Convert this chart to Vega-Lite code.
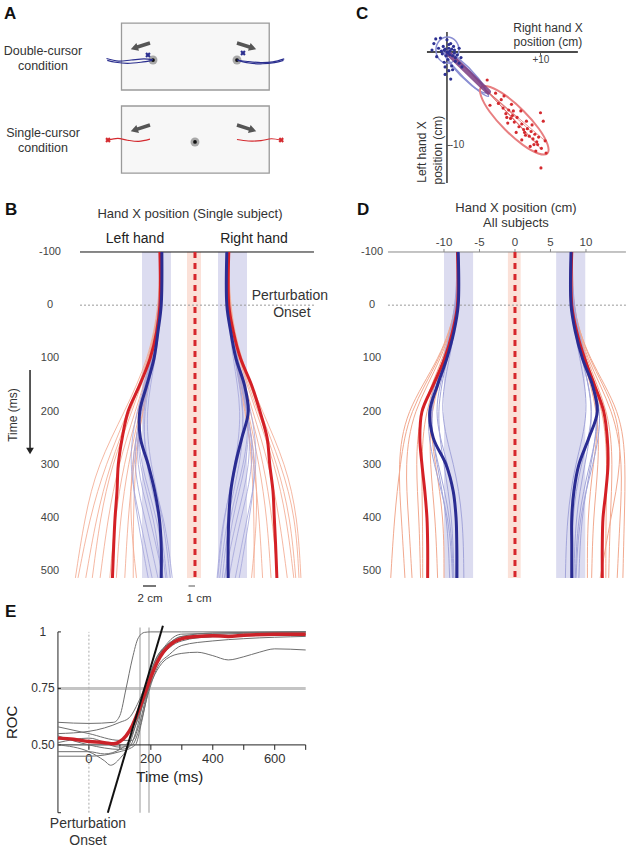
{
"$schema": "https://vega.github.io/schema/vega-lite/v6.json",
"padding": 0,
"background": "white",
"columns": 2,
"spacing": 0,
"bounds": "flush",
"config": {"view": {"stroke": null}, "font": "Liberation Sans", "text": {"font": "Liberation Sans"}, "axis": {"labelFont": "Liberation Sans", "grid": false}},
"datasets": {
"aBox": [{"x":-9.8,"x2":9.9,"y":3.07,"y2":12.0},{"x":-9.8,"x2":9.9,"y":14.13,"y2":23.07}],
"aArrow": [{"side":"L","x":-6.0,"y":5.73,"x2":-8.1,"y2":6.4},{"side":"R","x":5.6,"y":5.73,"x2":7.7,"y2":6.4},{"side":"L","x":-6.0,"y":16.67,"x2":-8.1,"y2":17.34},{"side":"R","x":5.6,"y":16.67,"x2":7.7,"y2":17.34}],
"aTarget": [{"x":-5.6,"y":8.0},{"x":5.6,"y":8.0},{"x":0,"y":18.93}],
"aTraj": [
{"i":"b1","c":"b","k":0,"x":-5.6,"y":7.95},{"i":"b1","c":"b","k":1,"x":-6.8,"y":7.85},{"i":"b1","c":"b","k":2,"x":-8.5,"y":8.0},{"i":"b1","c":"b","k":3,"x":-10.2,"y":8.15},{"i":"b1","c":"b","k":4,"x":-11.8,"y":7.8},
{"i":"b2","c":"b","k":0,"x":-5.7,"y":8.05},{"i":"b2","c":"b","k":1,"x":-7.2,"y":8.3},{"i":"b2","c":"b","k":2,"x":-9.0,"y":8.45},{"i":"b2","c":"b","k":3,"x":-10.6,"y":8.3},{"i":"b2","c":"b","k":4,"x":-11.7,"y":8.05},
{"i":"b3","c":"b","k":0,"x":5.6,"y":8.0},{"i":"b3","c":"b","k":1,"x":7.0,"y":8.2},{"i":"b3","c":"b","k":2,"x":8.8,"y":8.35},{"i":"b3","c":"b","k":3,"x":10.4,"y":8.25},{"i":"b3","c":"b","k":4,"x":11.9,"y":7.85},
{"i":"b4","c":"b","k":0,"x":5.7,"y":8.05},{"i":"b4","c":"b","k":1,"x":7.2,"y":8.4},{"i":"b4","c":"b","k":2,"x":9.0,"y":8.5},{"i":"b4","c":"b","k":3,"x":10.6,"y":8.35},{"i":"b4","c":"b","k":4,"x":11.8,"y":8.05},
{"i":"r1","c":"r","k":0,"x":-6.0,"y":18.55},{"i":"r1","c":"r","k":1,"x":-7.5,"y":18.85},{"i":"r1","c":"r","k":2,"x":-9.0,"y":18.7},{"i":"r1","c":"r","k":3,"x":-10.3,"y":18.45},{"i":"r1","c":"r","k":4,"x":-11.6,"y":18.7},
{"i":"r2","c":"r","k":0,"x":5.6,"y":18.6},{"i":"r2","c":"r","k":1,"x":7.1,"y":18.8},{"i":"r2","c":"r","k":2,"x":8.8,"y":18.75},{"i":"r2","c":"r","k":3,"x":10.2,"y":18.5},{"i":"r2","c":"r","k":4,"x":11.5,"y":18.7}
],
"aCross": [{"c":"b","x":-6.27,"y":7.33},{"c":"b","x":6.4,"y":7.07},{"c":"r","x":-11.6,"y":18.67},{"c":"r","x":11.5,"y":18.67}],
"cEll": [
{"g":"e0","k":0,"x":1.28,"y":0.2},{"g":"e0","k":1,"x":0.92,"y":1.19},{"g":"e0","k":2,"x":0.05,"y":1.6},{"g":"e0","k":3,"x":-0.82,"y":1.19},{"g":"e0","k":4,"x":-1.18,"y":0.2},{"g":"e0","k":5,"x":-0.82,"y":-0.79},{"g":"e0","k":6,"x":0.05,"y":-1.2},{"g":"e0","k":7,"x":0.92,"y":-0.79},
{"g":"e1","k":0,"x":4.16,"y":-4.36},{"g":"e1","k":1,"x":3.4,"y":-2.86},{"g":"e1","k":2,"x":1.14,"y":-0.6},{"g":"e1","k":3,"x":-0.36,"y":0.16},{"g":"e1","k":4,"x":0.4,"y":-1.34},{"g":"e1","k":5,"x":2.66,"y":-3.6},
{"g":"e2","k":0,"x":4.43,"y":-4.73},{"g":"e2","k":1,"x":3.55,"y":-3.29},{"g":"e2","k":2,"x":1.21,"y":-0.95},{"g":"e2","k":3,"x":-0.23,"y":-0.07},{"g":"e2","k":4,"x":0.65,"y":-1.51},{"g":"e2","k":5,"x":2.99,"y":-3.85},
{"g":"e3","k":0,"x":10.74,"y":-10.84},{"g":"e3","k":1,"x":10.75,"y":-9.87},{"g":"e3","k":2,"x":9.83,"y":-8.21},{"g":"e3","k":3,"x":8.19,"y":-6.31},{"g":"e3","k":4,"x":6.29,"y":-4.67},{"g":"e3","k":5,"x":4.63,"y":-3.75},{"g":"e3","k":6,"x":3.66,"y":-3.76},{"g":"e3","k":7,"x":3.65,"y":-4.73},{"g":"e3","k":8,"x":4.57,"y":-6.39},{"g":"e3","k":9,"x":6.21,"y":-8.29},{"g":"e3","k":10,"x":8.11,"y":-9.93},{"g":"e3","k":11,"x":9.77,"y":-10.85}
],
"cFan": [{"x":4.2,"y":-4.1,"x2":10.0,"y2":-10.3},{"x":4.2,"y":-4.1,"x2":9.7,"y2":-9.9},{"x":4.2,"y":-4.1,"x2":10.5,"y2":-9.5},{"x":4.2,"y":-4.1,"x2":9.0,"y2":-8.5},{"x":4.2,"y":-4.1,"x2":8.2,"y2":-8.3},{"x":4.2,"y":-4.1,"x2":7.5,"y2":-7.0}],
"cBand": [{"x":0.15,"y":-0.15,"x2":4.4,"y2":-4.25}],
"cBlue": [{"x":-0.2,"y":0.3},{"x":0.3,"y":0.1},{"x":-0.5,"y":-0.2},{"x":0.6,"y":-0.4},{"x":0.1,"y":-0.8},{"x":-0.3,"y":-1.1},{"x":0.8,"y":0.2},{"x":1.1,"y":-0.3},{"x":-0.9,"y":0.4},{"x":-1.4,"y":0.9},{"x":-1.6,"y":0.2},{"x":0.4,"y":0.9},{"x":0.0,"y":1.3},{"x":-0.7,"y":1.5},{"x":0.9,"y":-1.0},{"x":0.5,"y":-1.5},{"x":0.2,"y":-2.0},{"x":-0.2,"y":-2.4},{"x":0.4,"y":-2.9},{"x":1.3,"y":-1.2},{"x":1.5,"y":-0.6},{"x":-1.1,"y":-0.5},{"x":-0.4,"y":0.6},{"x":0.7,"y":0.6},{"x":0.2,"y":0.4},{"x":-0.1,"y":-0.4},{"x":0.3,"y":-0.3},{"x":0.0,"y":0.0},{"x":0.5,"y":0.3},{"x":-0.6,"y":0.1},{"x":1.3,"y":0.4},{"x":0.9,"y":-0.6},{"x":-0.2,"y":-1.6},{"x":0.6,"y":-1.9},{"x":1.6,"y":-1.6},{"x":0.2,"y":0.8},{"x":-1.2,"y":1.4},{"x":0.1,"y":-0.1},{"x":0.8,"y":-0.1},{"x":-0.3,"y":0.2}],
"cRed": [{"x":4.3,"y":-3.0},{"x":4.6,"y":-5.7},{"x":5.8,"y":-5.1},{"x":6.0,"y":-6.0},{"x":6.3,"y":-6.6},{"x":6.6,"y":-6.2},{"x":6.8,"y":-7.1},{"x":7.0,"y":-6.8},{"x":7.2,"y":-7.5},{"x":6.5,"y":-7.6},{"x":7.5,"y":-7.0},{"x":7.7,"y":-8.0},{"x":8.0,"y":-7.7},{"x":8.2,"y":-8.3},{"x":8.4,"y":-8.9},{"x":8.6,"y":-8.2},{"x":8.8,"y":-9.0},{"x":9.0,"y":-8.5},{"x":9.2,"y":-9.3},{"x":9.4,"y":-8.8},{"x":9.6,"y":-9.6},{"x":9.8,"y":-9.1},{"x":10.0,"y":-6.5},{"x":9.7,"y":-9.9},{"x":10.1,"y":-10.3},{"x":10.5,"y":-9.5},{"x":10.05,"y":-12.4},{"x":5.5,"y":-5.5},{"x":6.1,"y":-4.7},{"x":7.9,"y":-6.3},{"x":8.5,"y":-7.4},{"x":9.1,"y":-7.8},{"x":7.4,"y":-8.6},{"x":8.0,"y":-9.4},{"x":6.9,"y":-5.6},{"x":8.9,"y":-10.1},{"x":9.5,"y":-10.6},{"x":10.3,"y":-7.4},{"x":5.2,"y":-4.4},{"x":7.1,"y":-6.3},{"x":8.3,"y":-8.6},{"x":9.3,"y":-9.9},{"x":6.4,"y":-7.0},{"x":10.6,"y":-10.8}],
"tTicks": [{"t":-100},{"t":0},{"t":100},{"t":200},{"t":300},{"t":400},{"t":500}],
"bBand": [{"kind":"hand","x":-8.15,"x2":-3.7,"t":-100,"t2":513},{"kind":"hand","x":3.54,"x2":8.0,"t":-100,"t2":513},{"kind":"cursor","x":-1.23,"x2":0.92,"t":-100,"t2":513}],
"bThin": [
{"i":"bl1","c":"b","t":-100,"x":-5.1},{"i":"bl1","c":"b","t":0,"x":-5.2},{"i":"bl1","c":"b","t":100,"x":-6.3},{"i":"bl1","c":"b","t":200,"x":-8.5},{"i":"bl1","c":"b","t":300,"x":-9.7},{"i":"bl1","c":"b","t":400,"x":-7.7},{"i":"bl1","c":"b","t":513,"x":-5.7},
{"i":"bl2","c":"b","t":-100,"x":-5.2},{"i":"bl2","c":"b","t":0,"x":-5.4},{"i":"bl2","c":"b","t":100,"x":-6.5},{"i":"bl2","c":"b","t":200,"x":-8.8},{"i":"bl2","c":"b","t":300,"x":-8.8},{"i":"bl2","c":"b","t":400,"x":-6.2},{"i":"bl2","c":"b","t":513,"x":-5.1},
{"i":"bl3","c":"b","t":-100,"x":-5.1},{"i":"bl3","c":"b","t":0,"x":-5.2},{"i":"bl3","c":"b","t":100,"x":-6.2},{"i":"bl3","c":"b","t":200,"x":-8.0},{"i":"bl3","c":"b","t":300,"x":-7.7},{"i":"bl3","c":"b","t":400,"x":-5.4},{"i":"bl3","c":"b","t":513,"x":-4.3},
{"i":"bl4","c":"b","t":-100,"x":-5.2},{"i":"bl4","c":"b","t":0,"x":-5.4},{"i":"bl4","c":"b","t":100,"x":-6.6},{"i":"bl4","c":"b","t":200,"x":-9.1},{"i":"bl4","c":"b","t":300,"x":-10.3},{"i":"bl4","c":"b","t":400,"x":-8.5},{"i":"bl4","c":"b","t":513,"x":-6.6},
{"i":"bl5","c":"b","t":-100,"x":-5.1},{"i":"bl5","c":"b","t":0,"x":-5.1},{"i":"bl5","c":"b","t":100,"x":-6.0},{"i":"bl5","c":"b","t":200,"x":-7.7},{"i":"bl5","c":"b","t":300,"x":-6.9},{"i":"bl5","c":"b","t":400,"x":-4.9},{"i":"bl5","c":"b","t":513,"x":-3.8},
{"i":"bl6","c":"b","t":-100,"x":-5.2},{"i":"bl6","c":"b","t":0,"x":-5.2},{"i":"bl6","c":"b","t":100,"x":-6.5},{"i":"bl6","c":"b","t":200,"x":-8.6},{"i":"bl6","c":"b","t":300,"x":-9.2},{"i":"bl6","c":"b","t":400,"x":-6.9},{"i":"bl6","c":"b","t":513,"x":-4.9},
{"i":"bl7","c":"b","t":-100,"x":-5.4},{"i":"bl7","c":"b","t":0,"x":-5.4},{"i":"bl7","c":"b","t":100,"x":-6.6},{"i":"bl7","c":"b","t":200,"x":-8.9},{"i":"bl7","c":"b","t":300,"x":-8.5},{"i":"bl7","c":"b","t":400,"x":-5.7},{"i":"bl7","c":"b","t":513,"x":-4.5},
{"i":"bl8","c":"b","t":-100,"x":-5.1},{"i":"bl8","c":"b","t":0,"x":-5.2},{"i":"bl8","c":"b","t":100,"x":-6.2},{"i":"bl8","c":"b","t":200,"x":-8.2},{"i":"bl8","c":"b","t":300,"x":-10.0},{"i":"bl8","c":"b","t":400,"x":-8.9},{"i":"bl8","c":"b","t":513,"x":-7.2},
{"i":"bl9","c":"b","t":-100,"x":-5.2},{"i":"bl9","c":"b","t":0,"x":-5.4},{"i":"bl9","c":"b","t":100,"x":-6.3},{"i":"bl9","c":"b","t":200,"x":-8.3},{"i":"bl9","c":"b","t":300,"x":-7.4},{"i":"bl9","c":"b","t":400,"x":-4.6},{"i":"bl9","c":"b","t":513,"x":-3.5},
{"i":"br1","c":"b","t":-100,"x":4.9},{"i":"br1","c":"b","t":0,"x":5.0},{"i":"br1","c":"b","t":100,"x":6.1},{"i":"br1","c":"b","t":200,"x":8.2},{"i":"br1","c":"b","t":300,"x":9.2},{"i":"br1","c":"b","t":400,"x":7.0},{"i":"br1","c":"b","t":513,"x":5.2},
{"i":"br2","c":"b","t":-100,"x":4.9},{"i":"br2","c":"b","t":0,"x":5.1},{"i":"br2","c":"b","t":100,"x":6.3},{"i":"br2","c":"b","t":200,"x":8.5},{"i":"br2","c":"b","t":300,"x":8.0},{"i":"br2","c":"b","t":400,"x":5.6},{"i":"br2","c":"b","t":513,"x":4.6},
{"i":"br3","c":"b","t":-100,"x":4.9},{"i":"br3","c":"b","t":0,"x":5.0},{"i":"br3","c":"b","t":100,"x":6.0},{"i":"br3","c":"b","t":200,"x":7.7},{"i":"br3","c":"b","t":300,"x":7.0},{"i":"br3","c":"b","t":400,"x":4.9},{"i":"br3","c":"b","t":513,"x":3.8},
{"i":"br4","c":"b","t":-100,"x":5.0},{"i":"br4","c":"b","t":0,"x":5.1},{"i":"br4","c":"b","t":100,"x":6.4},{"i":"br4","c":"b","t":200,"x":8.8},{"i":"br4","c":"b","t":300,"x":9.8},{"i":"br4","c":"b","t":400,"x":8.0},{"i":"br4","c":"b","t":513,"x":6.2},
{"i":"br5","c":"b","t":-100,"x":4.8},{"i":"br5","c":"b","t":0,"x":4.9},{"i":"br5","c":"b","t":100,"x":5.8},{"i":"br5","c":"b","t":200,"x":7.3},{"i":"br5","c":"b","t":300,"x":6.2},{"i":"br5","c":"b","t":400,"x":4.4},{"i":"br5","c":"b","t":513,"x":3.5},
{"i":"br6","c":"b","t":-100,"x":4.9},{"i":"br6","c":"b","t":0,"x":5.0},{"i":"br6","c":"b","t":100,"x":6.2},{"i":"br6","c":"b","t":200,"x":8.3},{"i":"br6","c":"b","t":300,"x":8.6},{"i":"br6","c":"b","t":400,"x":6.4},{"i":"br6","c":"b","t":513,"x":4.5},
{"i":"br7","c":"b","t":-100,"x":5.1},{"i":"br7","c":"b","t":0,"x":5.1},{"i":"br7","c":"b","t":100,"x":6.4},{"i":"br7","c":"b","t":200,"x":8.6},{"i":"br7","c":"b","t":300,"x":7.6},{"i":"br7","c":"b","t":400,"x":5.2},{"i":"br7","c":"b","t":513,"x":4.2},
{"i":"br8","c":"b","t":-100,"x":4.9},{"i":"br8","c":"b","t":0,"x":5.0},{"i":"br8","c":"b","t":100,"x":6.1},{"i":"br8","c":"b","t":200,"x":8.0},{"i":"br8","c":"b","t":300,"x":9.5},{"i":"br8","c":"b","t":400,"x":8.4},{"i":"br8","c":"b","t":513,"x":6.8},
{"i":"br9","c":"b","t":-100,"x":4.9},{"i":"br9","c":"b","t":0,"x":5.0},{"i":"br9","c":"b","t":100,"x":6.0},{"i":"br9","c":"b","t":200,"x":7.9},{"i":"br9","c":"b","t":300,"x":6.6},{"i":"br9","c":"b","t":400,"x":4.2},{"i":"br9","c":"b","t":513,"x":3.4},
{"i":"rl1","c":"r","t":-100,"x":-5.3},{"i":"rl1","c":"r","t":0,"x":-5.4},{"i":"rl1","c":"r","t":100,"x":-7.0},{"i":"rl1","c":"r","t":200,"x":-10.3},{"i":"rl1","c":"r","t":300,"x":-13.8},{"i":"rl1","c":"r","t":400,"x":-16.2},{"i":"rl1","c":"r","t":513,"x":-18.0},
{"i":"rl2","c":"r","t":-100,"x":-5.4},{"i":"rl2","c":"r","t":0,"x":-5.4},{"i":"rl2","c":"r","t":100,"x":-6.6},{"i":"rl2","c":"r","t":200,"x":-9.2},{"i":"rl2","c":"r","t":300,"x":-11.8},{"i":"rl2","c":"r","t":400,"x":-13.4},{"i":"rl2","c":"r","t":513,"x":-14.6},
{"i":"rl3","c":"r","t":-100,"x":-5.3},{"i":"rl3","c":"r","t":0,"x":-5.4},{"i":"rl3","c":"r","t":100,"x":-6.8},{"i":"rl3","c":"r","t":200,"x":-9.7},{"i":"rl3","c":"r","t":300,"x":-12.8},{"i":"rl3","c":"r","t":400,"x":-14.6},{"i":"rl3","c":"r","t":513,"x":-15.8},
{"i":"rl4","c":"r","t":-100,"x":-5.4},{"i":"rl4","c":"r","t":0,"x":-5.5},{"i":"rl4","c":"r","t":100,"x":-7.1},{"i":"rl4","c":"r","t":200,"x":-10.8},{"i":"rl4","c":"r","t":300,"x":-15.0},{"i":"rl4","c":"r","t":400,"x":-17.0},{"i":"rl4","c":"r","t":513,"x":-18.4},
{"i":"rl5","c":"r","t":-100,"x":-5.3},{"i":"rl5","c":"r","t":0,"x":-5.4},{"i":"rl5","c":"r","t":100,"x":-6.5},{"i":"rl5","c":"r","t":200,"x":-8.5},{"i":"rl5","c":"r","t":300,"x":-10.3},{"i":"rl5","c":"r","t":400,"x":-11.5},{"i":"rl5","c":"r","t":513,"x":-12.1},
{"i":"rl6","c":"r","t":-100,"x":-5.4},{"i":"rl6","c":"r","t":0,"x":-5.4},{"i":"rl6","c":"r","t":100,"x":-6.6},{"i":"rl6","c":"r","t":200,"x":-8.8},{"i":"rl6","c":"r","t":300,"x":-11.0},{"i":"rl6","c":"r","t":400,"x":-12.3},{"i":"rl6","c":"r","t":513,"x":-13.1},
{"i":"rl7","c":"r","t":-100,"x":-5.3},{"i":"rl7","c":"r","t":0,"x":-5.3},{"i":"rl7","c":"r","t":100,"x":-6.3},{"i":"rl7","c":"r","t":200,"x":-8.0},{"i":"rl7","c":"r","t":300,"x":-9.5},{"i":"rl7","c":"r","t":400,"x":-10.3},{"i":"rl7","c":"r","t":513,"x":-10.8},
{"i":"rl8","c":"r","t":-100,"x":-5.4},{"i":"rl8","c":"r","t":0,"x":-5.4},{"i":"rl8","c":"r","t":100,"x":-6.9},{"i":"rl8","c":"r","t":200,"x":-10.0},{"i":"rl8","c":"r","t":300,"x":-13.1},{"i":"rl8","c":"r","t":400,"x":-15.2},{"i":"rl8","c":"r","t":513,"x":-16.8},
{"i":"rl9","c":"r","t":-100,"x":-5.3},{"i":"rl9","c":"r","t":0,"x":-5.4},{"i":"rl9","c":"r","t":100,"x":-6.5},{"i":"rl9","c":"r","t":200,"x":-8.2},{"i":"rl9","c":"r","t":300,"x":-9.2},{"i":"rl9","c":"r","t":400,"x":-9.5},{"i":"rl9","c":"r","t":513,"x":-9.5},
{"i":"rl10","c":"r","t":-100,"x":-5.3},{"i":"rl10","c":"r","t":0,"x":-5.4},{"i":"rl10","c":"r","t":100,"x":-6.4},{"i":"rl10","c":"r","t":200,"x":-8.4},{"i":"rl10","c":"r","t":300,"x":-9.8},{"i":"rl10","c":"r","t":400,"x":-10.0},{"i":"rl10","c":"r","t":513,"x":-9.0},
{"i":"rr1","c":"r","t":-100,"x":5.1},{"i":"rr1","c":"r","t":0,"x":5.2},{"i":"rr1","c":"r","t":100,"x":6.8},{"i":"rr1","c":"r","t":200,"x":10.0},{"i":"rr1","c":"r","t":300,"x":13.3},{"i":"rr1","c":"r","t":400,"x":15.5},{"i":"rr1","c":"r","t":513,"x":16.0},
{"i":"rr2","c":"r","t":-100,"x":5.2},{"i":"rr2","c":"r","t":0,"x":5.2},{"i":"rr2","c":"r","t":100,"x":6.4},{"i":"rr2","c":"r","t":200,"x":8.9},{"i":"rr2","c":"r","t":300,"x":11.4},{"i":"rr2","c":"r","t":400,"x":13.0},{"i":"rr2","c":"r","t":513,"x":14.2},
{"i":"rr3","c":"r","t":-100,"x":5.1},{"i":"rr3","c":"r","t":0,"x":5.2},{"i":"rr3","c":"r","t":100,"x":6.6},{"i":"rr3","c":"r","t":200,"x":9.4},{"i":"rr3","c":"r","t":300,"x":12.3},{"i":"rr3","c":"r","t":400,"x":14.1},{"i":"rr3","c":"r","t":513,"x":15.2},
{"i":"rr4","c":"r","t":-100,"x":5.2},{"i":"rr4","c":"r","t":0,"x":5.3},{"i":"rr4","c":"r","t":100,"x":6.9},{"i":"rr4","c":"r","t":200,"x":10.4},{"i":"rr4","c":"r","t":300,"x":14.0},{"i":"rr4","c":"r","t":400,"x":15.8},{"i":"rr4","c":"r","t":513,"x":16.3},
{"i":"rr5","c":"r","t":-100,"x":5.1},{"i":"rr5","c":"r","t":0,"x":5.2},{"i":"rr5","c":"r","t":100,"x":6.3},{"i":"rr5","c":"r","t":200,"x":8.2},{"i":"rr5","c":"r","t":300,"x":9.9},{"i":"rr5","c":"r","t":400,"x":11.1},{"i":"rr5","c":"r","t":513,"x":11.7},
{"i":"rr6","c":"r","t":-100,"x":5.2},{"i":"rr6","c":"r","t":0,"x":5.2},{"i":"rr6","c":"r","t":100,"x":6.4},{"i":"rr6","c":"r","t":200,"x":8.5},{"i":"rr6","c":"r","t":300,"x":10.6},{"i":"rr6","c":"r","t":400,"x":11.9},{"i":"rr6","c":"r","t":513,"x":12.7},
{"i":"rr7","c":"r","t":-100,"x":5.1},{"i":"rr7","c":"r","t":0,"x":5.1},{"i":"rr7","c":"r","t":100,"x":6.1},{"i":"rr7","c":"r","t":200,"x":7.7},{"i":"rr7","c":"r","t":300,"x":9.1},{"i":"rr7","c":"r","t":400,"x":9.9},{"i":"rr7","c":"r","t":513,"x":10.4},
{"i":"rr8","c":"r","t":-100,"x":5.2},{"i":"rr8","c":"r","t":0,"x":5.2},{"i":"rr8","c":"r","t":100,"x":6.7},{"i":"rr8","c":"r","t":200,"x":9.7},{"i":"rr8","c":"r","t":300,"x":12.7},{"i":"rr8","c":"r","t":400,"x":14.7},{"i":"rr8","c":"r","t":513,"x":15.5},
{"i":"rr9","c":"r","t":-100,"x":5.1},{"i":"rr9","c":"r","t":0,"x":5.2},{"i":"rr9","c":"r","t":100,"x":6.3},{"i":"rr9","c":"r","t":200,"x":7.9},{"i":"rr9","c":"r","t":300,"x":8.8},{"i":"rr9","c":"r","t":400,"x":9.1},{"i":"rr9","c":"r","t":513,"x":9.1},
{"i":"rr10","c":"r","t":-100,"x":5.1},{"i":"rr10","c":"r","t":0,"x":5.2},{"i":"rr10","c":"r","t":100,"x":6.2},{"i":"rr10","c":"r","t":200,"x":8.1},{"i":"rr10","c":"r","t":300,"x":9.4},{"i":"rr10","c":"r","t":400,"x":9.6},{"i":"rr10","c":"r","t":513,"x":8.7}
],
"bMean": [
{"i":"Lb","c":"b","t":-100,"x":-5.1},{"i":"Lb","c":"b","t":0,"x":-5.2},{"i":"Lb","c":"b","t":50,"x":-5.7},{"i":"Lb","c":"b","t":100,"x":-6.3},{"i":"Lb","c":"b","t":150,"x":-7.4},{"i":"Lb","c":"b","t":200,"x":-8.5},{"i":"Lb","c":"b","t":250,"x":-8.4},{"i":"Lb","c":"b","t":300,"x":-7.2},{"i":"Lb","c":"b","t":350,"x":-6.2},{"i":"Lb","c":"b","t":400,"x":-5.5},{"i":"Lb","c":"b","t":450,"x":-5.2},{"i":"Lb","c":"b","t":513,"x":-5.2},
{"i":"Lr","c":"r","t":-100,"x":-5.4},{"i":"Lr","c":"r","t":0,"x":-5.4},{"i":"Lr","c":"r","t":50,"x":-5.9},{"i":"Lr","c":"r","t":100,"x":-6.9},{"i":"Lr","c":"r","t":150,"x":-8.5},{"i":"Lr","c":"r","t":200,"x":-10.3},{"i":"Lr","c":"r","t":250,"x":-11.2},{"i":"Lr","c":"r","t":300,"x":-11.8},{"i":"Lr","c":"r","t":350,"x":-12.0},{"i":"Lr","c":"r","t":400,"x":-12.3},{"i":"Lr","c":"r","t":450,"x":-12.5},{"i":"Lr","c":"r","t":513,"x":-12.7},
{"i":"Rb","c":"b","t":-100,"x":4.9},{"i":"Rb","c":"b","t":0,"x":4.9},{"i":"Rb","c":"b","t":50,"x":5.5},{"i":"Rb","c":"b","t":100,"x":6.3},{"i":"Rb","c":"b","t":150,"x":7.6},{"i":"Rb","c":"b","t":200,"x":8.2},{"i":"Rb","c":"b","t":250,"x":7.2},{"i":"Rb","c":"b","t":300,"x":6.2},{"i":"Rb","c":"b","t":350,"x":5.5},{"i":"Rb","c":"b","t":400,"x":5.2},{"i":"Rb","c":"b","t":450,"x":5.1},{"i":"Rb","c":"b","t":513,"x":5.1},
{"i":"Rr","c":"r","t":-100,"x":5.2},{"i":"Rr","c":"r","t":0,"x":5.2},{"i":"Rr","c":"r","t":50,"x":5.9},{"i":"Rr","c":"r","t":100,"x":7.0},{"i":"Rr","c":"r","t":150,"x":8.7},{"i":"Rr","c":"r","t":200,"x":10.0},{"i":"Rr","c":"r","t":250,"x":11.1},{"i":"Rr","c":"r","t":300,"x":11.5},{"i":"Rr","c":"r","t":350,"x":12.0},{"i":"Rr","c":"r","t":400,"x":12.2},{"i":"Rr","c":"r","t":450,"x":12.4},{"i":"Rr","c":"r","t":513,"x":12.6}
],
"dBand": [{"kind":"hand","x":-10,"x2":-5.9,"t":-100,"t2":513},{"kind":"hand","x":5.8,"x2":9.9,"t":-100,"t2":513},{"kind":"cursor","x":-1.0,"x2":0.8,"t":-100,"t2":513}],
"dTick": [{"x":-10},{"x":-5},{"x":0},{"x":5},{"x":10}],
"dThin": [
{"i":"dbl1","c":"b","t":-100,"x":-8.0},{"i":"dbl1","c":"b","t":0,"x":-8.0},{"i":"dbl1","c":"b","t":100,"x":-9.5},{"i":"dbl1","c":"b","t":200,"x":-11.2},{"i":"dbl1","c":"b","t":300,"x":-10.0},{"i":"dbl1","c":"b","t":400,"x":-8.8},{"i":"dbl1","c":"b","t":513,"x":-8.6},
{"i":"dbl2","c":"b","t":-100,"x":-8.1},{"i":"dbl2","c":"b","t":0,"x":-8.1},{"i":"dbl2","c":"b","t":100,"x":-9.8},{"i":"dbl2","c":"b","t":200,"x":-12.5},{"i":"dbl2","c":"b","t":300,"x":-10.8},{"i":"dbl2","c":"b","t":400,"x":-9.0},{"i":"dbl2","c":"b","t":513,"x":-8.7},
{"i":"dbl3","c":"b","t":-100,"x":-7.9},{"i":"dbl3","c":"b","t":0,"x":-7.9},{"i":"dbl3","c":"b","t":100,"x":-9.2},{"i":"dbl3","c":"b","t":200,"x":-10.8},{"i":"dbl3","c":"b","t":300,"x":-8.5},{"i":"dbl3","c":"b","t":400,"x":-7.3},{"i":"dbl3","c":"b","t":513,"x":-7.2},
{"i":"dbl4","c":"b","t":-100,"x":-8.0},{"i":"dbl4","c":"b","t":0,"x":-8.0},{"i":"dbl4","c":"b","t":100,"x":-9.9},{"i":"dbl4","c":"b","t":200,"x":-12.8},{"i":"dbl4","c":"b","t":300,"x":-11.5},{"i":"dbl4","c":"b","t":400,"x":-9.2},{"i":"dbl4","c":"b","t":513,"x":-8.8},
{"i":"dbl5","c":"b","t":-100,"x":-8.0},{"i":"dbl5","c":"b","t":0,"x":-8.0},{"i":"dbl5","c":"b","t":100,"x":-9.4},{"i":"dbl5","c":"b","t":200,"x":-11.8},{"i":"dbl5","c":"b","t":300,"x":-9.3},{"i":"dbl5","c":"b","t":400,"x":-8.1},{"i":"dbl5","c":"b","t":513,"x":-8.0},
{"i":"dbl6","c":"b","t":-100,"x":-8.2},{"i":"dbl6","c":"b","t":0,"x":-8.2},{"i":"dbl6","c":"b","t":100,"x":-10.0},{"i":"dbl6","c":"b","t":200,"x":-12.2},{"i":"dbl6","c":"b","t":300,"x":-11.0},{"i":"dbl6","c":"b","t":400,"x":-9.5},{"i":"dbl6","c":"b","t":513,"x":-9.2},
{"i":"dbr1","c":"b","t":-100,"x":7.9},{"i":"dbr1","c":"b","t":0,"x":7.9},{"i":"dbr1","c":"b","t":100,"x":9.4},{"i":"dbr1","c":"b","t":200,"x":11.3},{"i":"dbr1","c":"b","t":300,"x":9.8},{"i":"dbr1","c":"b","t":400,"x":8.5},{"i":"dbr1","c":"b","t":513,"x":8.3},
{"i":"dbr2","c":"b","t":-100,"x":8.0},{"i":"dbr2","c":"b","t":0,"x":8.0},{"i":"dbr2","c":"b","t":100,"x":9.7},{"i":"dbr2","c":"b","t":200,"x":12.3},{"i":"dbr2","c":"b","t":300,"x":10.5},{"i":"dbr2","c":"b","t":400,"x":8.8},{"i":"dbr2","c":"b","t":513,"x":8.5},
{"i":"dbr3","c":"b","t":-100,"x":7.8},{"i":"dbr3","c":"b","t":0,"x":7.8},{"i":"dbr3","c":"b","t":100,"x":9.1},{"i":"dbr3","c":"b","t":200,"x":10.6},{"i":"dbr3","c":"b","t":300,"x":8.4},{"i":"dbr3","c":"b","t":400,"x":7.3},{"i":"dbr3","c":"b","t":513,"x":7.1},
{"i":"dbr4","c":"b","t":-100,"x":7.9},{"i":"dbr4","c":"b","t":0,"x":7.9},{"i":"dbr4","c":"b","t":100,"x":9.8},{"i":"dbr4","c":"b","t":200,"x":12.6},{"i":"dbr4","c":"b","t":300,"x":11.0},{"i":"dbr4","c":"b","t":400,"x":9.0},{"i":"dbr4","c":"b","t":513,"x":8.6},
{"i":"dbr5","c":"b","t":-100,"x":7.9},{"i":"dbr5","c":"b","t":0,"x":7.9},{"i":"dbr5","c":"b","t":100,"x":9.3},{"i":"dbr5","c":"b","t":200,"x":11.5},{"i":"dbr5","c":"b","t":300,"x":9.2},{"i":"dbr5","c":"b","t":400,"x":8.0},{"i":"dbr5","c":"b","t":513,"x":7.9},
{"i":"dbr6","c":"b","t":-100,"x":8.1},{"i":"dbr6","c":"b","t":0,"x":8.1},{"i":"dbr6","c":"b","t":100,"x":9.9},{"i":"dbr6","c":"b","t":200,"x":12.0},{"i":"dbr6","c":"b","t":300,"x":10.7},{"i":"dbr6","c":"b","t":400,"x":9.3},{"i":"dbr6","c":"b","t":513,"x":9.0},
{"i":"drl1","c":"r","t":-100,"x":-8.0},{"i":"drl1","c":"r","t":0,"x":-8.0},{"i":"drl1","c":"r","t":100,"x":-10.2},{"i":"drl1","c":"r","t":200,"x":-14.5},{"i":"drl1","c":"r","t":300,"x":-15.5},{"i":"drl1","c":"r","t":400,"x":-15.0},{"i":"drl1","c":"r","t":513,"x":-14.5},
{"i":"drl2","c":"r","t":-100,"x":-8.1},{"i":"drl2","c":"r","t":0,"x":-8.1},{"i":"drl2","c":"r","t":100,"x":-9.9},{"i":"drl2","c":"r","t":200,"x":-12.8},{"i":"drl2","c":"r","t":300,"x":-13.2},{"i":"drl2","c":"r","t":400,"x":-13.0},{"i":"drl2","c":"r","t":513,"x":-13.0},
{"i":"drl3","c":"r","t":-100,"x":-8.0},{"i":"drl3","c":"r","t":0,"x":-8.0},{"i":"drl3","c":"r","t":100,"x":-10.5},{"i":"drl3","c":"r","t":200,"x":-15.5},{"i":"drl3","c":"r","t":300,"x":-16.5},{"i":"drl3","c":"r","t":400,"x":-16.0},{"i":"drl3","c":"r","t":513,"x":-15.5},
{"i":"drl4","c":"r","t":-100,"x":-8.1},{"i":"drl4","c":"r","t":0,"x":-8.1},{"i":"drl4","c":"r","t":100,"x":-9.6},{"i":"drl4","c":"r","t":200,"x":-12.0},{"i":"drl4","c":"r","t":300,"x":-12.0},{"i":"drl4","c":"r","t":400,"x":-11.2},{"i":"drl4","c":"r","t":513,"x":-10.9},
{"i":"drl5","c":"r","t":-100,"x":-8.0},{"i":"drl5","c":"r","t":0,"x":-8.0},{"i":"drl5","c":"r","t":100,"x":-10.0},{"i":"drl5","c":"r","t":200,"x":-13.5},{"i":"drl5","c":"r","t":300,"x":-14.0},{"i":"drl5","c":"r","t":400,"x":-13.5},{"i":"drl5","c":"r","t":513,"x":-13.3},
{"i":"drl6","c":"r","t":-100,"x":-8.1},{"i":"drl6","c":"r","t":0,"x":-8.1},{"i":"drl6","c":"r","t":100,"x":-9.7},{"i":"drl6","c":"r","t":200,"x":-12.3},{"i":"drl6","c":"r","t":300,"x":-11.2},{"i":"drl6","c":"r","t":400,"x":-10.0},{"i":"drl6","c":"r","t":513,"x":-10.0},
{"i":"drl7","c":"r","t":-100,"x":-8.0},{"i":"drl7","c":"r","t":0,"x":-8.0},{"i":"drl7","c":"r","t":100,"x":-10.4},{"i":"drl7","c":"r","t":200,"x":-15.0},{"i":"drl7","c":"r","t":300,"x":-16.2},{"i":"drl7","c":"r","t":400,"x":-17.0},{"i":"drl7","c":"r","t":513,"x":-17.5},
{"i":"drr1","c":"r","t":-100,"x":8.0},{"i":"drr1","c":"r","t":0,"x":8.0},{"i":"drr1","c":"r","t":100,"x":10.0},{"i":"drr1","c":"r","t":200,"x":14.0},{"i":"drr1","c":"r","t":300,"x":15.2},{"i":"drr1","c":"r","t":400,"x":14.8},{"i":"drr1","c":"r","t":513,"x":14.4},
{"i":"drr2","c":"r","t":-100,"x":8.0},{"i":"drr2","c":"r","t":0,"x":8.0},{"i":"drr2","c":"r","t":100,"x":9.8},{"i":"drr2","c":"r","t":200,"x":12.6},{"i":"drr2","c":"r","t":300,"x":13.0},{"i":"drr2","c":"r","t":400,"x":12.8},{"i":"drr2","c":"r","t":513,"x":12.8},
{"i":"drr3","c":"r","t":-100,"x":7.9},{"i":"drr3","c":"r","t":0,"x":7.9},{"i":"drr3","c":"r","t":100,"x":10.3},{"i":"drr3","c":"r","t":200,"x":15.0},{"i":"drr3","c":"r","t":300,"x":15.6},{"i":"drr3","c":"r","t":400,"x":15.4},{"i":"drr3","c":"r","t":513,"x":15.2},
{"i":"drr4","c":"r","t":-100,"x":8.0},{"i":"drr4","c":"r","t":0,"x":8.0},{"i":"drr4","c":"r","t":100,"x":9.5},{"i":"drr4","c":"r","t":200,"x":11.8},{"i":"drr4","c":"r","t":300,"x":11.8},{"i":"drr4","c":"r","t":400,"x":11.0},{"i":"drr4","c":"r","t":513,"x":10.8},
{"i":"drr5","c":"r","t":-100,"x":8.0},{"i":"drr5","c":"r","t":0,"x":8.0},{"i":"drr5","c":"r","t":100,"x":9.9},{"i":"drr5","c":"r","t":200,"x":13.3},{"i":"drr5","c":"r","t":300,"x":13.8},{"i":"drr5","c":"r","t":400,"x":13.4},{"i":"drr5","c":"r","t":513,"x":13.2},
{"i":"drr6","c":"r","t":-100,"x":8.1},{"i":"drr6","c":"r","t":0,"x":8.1},{"i":"drr6","c":"r","t":100,"x":9.6},{"i":"drr6","c":"r","t":200,"x":12.1},{"i":"drr6","c":"r","t":300,"x":11.0},{"i":"drr6","c":"r","t":400,"x":10.2},{"i":"drr6","c":"r","t":513,"x":10.2},
{"i":"drr7","c":"r","t":-100,"x":8.0},{"i":"drr7","c":"r","t":0,"x":8.0},{"i":"drr7","c":"r","t":100,"x":10.2},{"i":"drr7","c":"r","t":200,"x":14.6},{"i":"drr7","c":"r","t":300,"x":15.0},{"i":"drr7","c":"r","t":400,"x":13.5},{"i":"drr7","c":"r","t":513,"x":12.0}
],
"dMean": [
{"i":"Lb","c":"b","t":-100,"x":-8.0},{"i":"Lb","c":"b","t":0,"x":-8.0},{"i":"Lb","c":"b","t":50,"x":-8.6},{"i":"Lb","c":"b","t":100,"x":-9.6},{"i":"Lb","c":"b","t":150,"x":-10.9},{"i":"Lb","c":"b","t":200,"x":-12.0},{"i":"Lb","c":"b","t":250,"x":-11.5},{"i":"Lb","c":"b","t":300,"x":-9.7},{"i":"Lb","c":"b","t":350,"x":-8.7},{"i":"Lb","c":"b","t":400,"x":-8.3},{"i":"Lb","c":"b","t":450,"x":-8.2},{"i":"Lb","c":"b","t":513,"x":-8.2},
{"i":"Lr","c":"r","t":-100,"x":-8.1},{"i":"Lr","c":"r","t":0,"x":-8.1},{"i":"Lr","c":"r","t":50,"x":-8.8},{"i":"Lr","c":"r","t":100,"x":-9.9},{"i":"Lr","c":"r","t":150,"x":-11.5},{"i":"Lr","c":"r","t":200,"x":-13.1},{"i":"Lr","c":"r","t":250,"x":-13.4},{"i":"Lr","c":"r","t":300,"x":-13.1},{"i":"Lr","c":"r","t":350,"x":-12.7},{"i":"Lr","c":"r","t":400,"x":-12.4},{"i":"Lr","c":"r","t":450,"x":-12.3},{"i":"Lr","c":"r","t":513,"x":-12.3},
{"i":"Rb","c":"b","t":-100,"x":7.9},{"i":"Rb","c":"b","t":0,"x":7.9},{"i":"Rb","c":"b","t":50,"x":8.5},{"i":"Rb","c":"b","t":100,"x":9.5},{"i":"Rb","c":"b","t":150,"x":10.9},{"i":"Rb","c":"b","t":200,"x":11.6},{"i":"Rb","c":"b","t":250,"x":10.4},{"i":"Rb","c":"b","t":300,"x":9.0},{"i":"Rb","c":"b","t":350,"x":8.3},{"i":"Rb","c":"b","t":400,"x":8.0},{"i":"Rb","c":"b","t":450,"x":8.0},{"i":"Rb","c":"b","t":513,"x":8.0},
{"i":"Rr","c":"r","t":-100,"x":8.0},{"i":"Rr","c":"r","t":0,"x":8.0},{"i":"Rr","c":"r","t":50,"x":8.7},{"i":"Rr","c":"r","t":100,"x":9.8},{"i":"Rr","c":"r","t":150,"x":11.2},{"i":"Rr","c":"r","t":200,"x":12.5},{"i":"Rr","c":"r","t":250,"x":13.0},{"i":"Rr","c":"r","t":300,"x":13.1},{"i":"Rr","c":"r","t":350,"x":12.8},{"i":"Rr","c":"r","t":400,"x":12.4},{"i":"Rr","c":"r","t":450,"x":12.3},{"i":"Rr","c":"r","t":513,"x":12.3}
],
"eSubj": [
{"i":"g1","t":-100,"roc":0.6},{"i":"g1","t":0,"roc":0.595},{"i":"g1","t":80,"roc":0.6},{"i":"g1","t":100,"roc":0.63},{"i":"g1","t":120,"roc":0.75},{"i":"g1","t":140,"roc":0.88},{"i":"g1","t":160,"roc":0.975},{"i":"g1","t":180,"roc":0.998},{"i":"g1","t":200,"roc":1.0},{"i":"g1","t":300,"roc":1.0},{"i":"g1","t":700,"roc":1.0},
{"i":"g2","t":-100,"roc":0.47},{"i":"g2","t":0,"roc":0.47},{"i":"g2","t":50,"roc":0.46},{"i":"g2","t":100,"roc":0.48},{"i":"g2","t":130,"roc":0.52},{"i":"g2","t":160,"roc":0.62},{"i":"g2","t":190,"roc":0.74},{"i":"g2","t":220,"roc":0.83},{"i":"g2","t":250,"roc":0.88},{"i":"g2","t":300,"roc":0.905},{"i":"g2","t":350,"roc":0.91},{"i":"g2","t":400,"roc":0.895},{"i":"g2","t":450,"roc":0.876},{"i":"g2","t":500,"roc":0.89},{"i":"g2","t":550,"roc":0.91},{"i":"g2","t":600,"roc":0.925},{"i":"g2","t":700,"roc":0.92},
{"i":"g3","t":-100,"roc":0.5},{"i":"g3","t":0,"roc":0.47},{"i":"g3","t":50,"roc":0.43},{"i":"g3","t":70,"roc":0.41},{"i":"g3","t":100,"roc":0.44},{"i":"g3","t":130,"roc":0.5},{"i":"g3","t":160,"roc":0.63},{"i":"g3","t":190,"roc":0.77},{"i":"g3","t":220,"roc":0.88},{"i":"g3","t":260,"roc":0.95},{"i":"g3","t":300,"roc":0.98},{"i":"g3","t":400,"roc":0.995},{"i":"g3","t":700,"roc":1.0},
{"i":"g4","t":-100,"roc":0.55},{"i":"g4","t":0,"roc":0.56},{"i":"g4","t":100,"roc":0.6},{"i":"g4","t":130,"roc":0.62},{"i":"g4","t":160,"roc":0.69},{"i":"g4","t":190,"roc":0.79},{"i":"g4","t":220,"roc":0.89},{"i":"g4","t":260,"roc":0.95},{"i":"g4","t":300,"roc":0.98},{"i":"g4","t":700,"roc":1.0},
{"i":"g5","t":-100,"roc":0.58},{"i":"g5","t":0,"roc":0.55},{"i":"g5","t":100,"roc":0.52},{"i":"g5","t":140,"roc":0.52},{"i":"g5","t":160,"roc":0.58},{"i":"g5","t":190,"roc":0.74},{"i":"g5","t":220,"roc":0.86},{"i":"g5","t":260,"roc":0.93},{"i":"g5","t":300,"roc":0.96},{"i":"g5","t":400,"roc":0.98},{"i":"g5","t":700,"roc":0.99},
{"i":"g6","t":-100,"roc":0.51},{"i":"g6","t":0,"roc":0.53},{"i":"g6","t":100,"roc":0.49},{"i":"g6","t":140,"roc":0.5},{"i":"g6","t":160,"roc":0.56},{"i":"g6","t":190,"roc":0.72},{"i":"g6","t":220,"roc":0.84},{"i":"g6","t":260,"roc":0.9},{"i":"g6","t":300,"roc":0.94},{"i":"g6","t":400,"roc":0.96},{"i":"g6","t":500,"roc":0.97},{"i":"g6","t":700,"roc":0.98},
{"i":"g7","t":-100,"roc":0.45},{"i":"g7","t":0,"roc":0.45},{"i":"g7","t":100,"roc":0.47},{"i":"g7","t":150,"roc":0.5},{"i":"g7","t":170,"roc":0.6},{"i":"g7","t":190,"roc":0.73},{"i":"g7","t":220,"roc":0.87},{"i":"g7","t":260,"roc":0.96},{"i":"g7","t":300,"roc":0.99},{"i":"g7","t":700,"roc":1.0},
{"i":"g8","t":-100,"roc":0.54},{"i":"g8","t":0,"roc":0.5},{"i":"g8","t":100,"roc":0.48},{"i":"g8","t":130,"roc":0.49},{"i":"g8","t":150,"roc":0.55},{"i":"g8","t":180,"roc":0.72},{"i":"g8","t":210,"roc":0.86},{"i":"g8","t":250,"roc":0.94},{"i":"g8","t":300,"roc":0.97},{"i":"g8","t":700,"roc":0.99}
],
"eMean": [{"t":-100,"roc":0.53},{"t":-50,"roc":0.525},{"t":0,"roc":0.515},{"t":50,"roc":0.51},{"t":80,"roc":0.505},{"t":100,"roc":0.515},{"t":120,"roc":0.54},{"t":140,"roc":0.585},{"t":160,"roc":0.65},{"t":180,"roc":0.725},{"t":200,"roc":0.8},{"t":220,"roc":0.865},{"t":240,"roc":0.91},{"t":260,"roc":0.94},{"t":300,"roc":0.97},{"t":350,"roc":0.98},{"t":400,"roc":0.983},{"t":450,"roc":0.98},{"t":500,"roc":0.985},{"t":600,"roc":0.99},{"t":700,"roc":0.99}],
"eXTick": [{"t":0},{"t":100},{"t":200},{"t":300},{"t":400},{"t":500},{"t":600},{"t":700}],
"eXLab": [{"t":0},{"t":200},{"t":400},{"t":600}],
"eYTick": [{"roc":1},{"roc":0.75},{"roc":0.5},{"roc":0.2}],
"eYLab": [{"roc":1,"lab":"1"},{"roc":0.75,"lab":"0.75"},{"roc":0.5,"lab":"0.50"}]
},
"concat": [
{
"width": 314, "height": 190,
"data": {"values": [{}]},
"layer": [
{
"encoding": {
"x": {"field": "x", "type": "quantitative", "scale": {"domain": [-26, 15.87], "nice": false, "zero": false}, "axis": null},
"y": {"field": "y", "type": "quantitative", "scale": {"domain": [0, 25.33], "reverse": true, "nice": false, "zero": false}, "axis": null}
},
"layer": [
{"data": {"name": "aBox"}, "mark": {"type": "rect", "fill": "#f7f7f7", "stroke": "#9a9a9a", "strokeWidth": 1.3}, "encoding": {"x2": {"field": "x2"}, "y2": {"field": "y2"}}},
{"data": {"name": "aArrow"}, "mark": {"type": "rule", "color": "#555", "strokeWidth": 3.5}, "encoding": {"x2": {"field": "x2"}, "y2": {"field": "y2"}}},
{"data": {"name": "aArrow"}, "transform": [{"filter": "datum.side == 'L'"}], "mark": {"type": "point", "shape": "triangle-up", "filled": true, "color": "#555", "size": 70, "angle": 252, "opacity": 1}, "encoding": {"x": {"field": "x2", "type": "quantitative", "axis": null}, "y": {"field": "y2", "type": "quantitative", "axis": null}}},
{"data": {"name": "aArrow"}, "transform": [{"filter": "datum.side == 'R'"}], "mark": {"type": "point", "shape": "triangle-up", "filled": true, "color": "#555", "size": 70, "angle": 108, "opacity": 1}, "encoding": {"x": {"field": "x2", "type": "quantitative", "axis": null}, "y": {"field": "y2", "type": "quantitative", "axis": null}}},
{"data": {"name": "aTarget"}, "mark": {"type": "circle", "color": "#a8a8a8", "size": 80, "opacity": 1}},
{"data": {"name": "aTarget"}, "mark": {"type": "circle", "color": "#111", "size": 14, "opacity": 1}},
{"data": {"name": "aTraj"}, "transform": [{"filter": "datum.c == 'b'"}], "mark": {"type": "line", "color": "#2b2f8f", "strokeWidth": 1.2, "interpolate": "catmull-rom"}, "encoding": {"detail": {"field": "i"}, "order": {"field": "k"}}},
{"data": {"name": "aTraj"}, "transform": [{"filter": "datum.c == 'r'"}], "mark": {"type": "line", "color": "#d42a2f", "strokeWidth": 1.1, "interpolate": "catmull-rom"}, "encoding": {"detail": {"field": "i"}, "order": {"field": "k"}}},
{"data": {"name": "aCross"}, "transform": [{"filter": "datum.c == 'b'"}], "mark": {"type": "point", "shape": "cross", "angle": 45, "filled": true, "color": "#2b2f8f", "size": 30, "opacity": 1}},
{"data": {"name": "aCross"}, "transform": [{"filter": "datum.c == 'r'"}], "mark": {"type": "point", "shape": "cross", "angle": 45, "filled": true, "color": "#d42a2f", "size": 30, "opacity": 1}}
]
},
{
"layer": [
{"mark": {"type": "text", "fontSize": 17, "fontWeight": "bold", "align": "left", "color": "#111"}, "encoding": {"x": {"datum": -25.47, "type": "quantitative", "axis": null}, "y": {"datum": 1.87, "type": "quantitative", "axis": null}, "text": {"value": "A"}}},
{"mark": {"type": "text", "fontSize": 12.5, "color": "#333"}, "encoding": {"x": {"datum": -20.27, "type": "quantitative", "axis": null}, "y": {"datum": 6.8, "type": "quantitative", "axis": null}, "text": {"value": "Double-cursor"}}},
{"mark": {"type": "text", "fontSize": 12.5, "color": "#333"}, "encoding": {"x": {"datum": -20.27, "type": "quantitative", "axis": null}, "y": {"datum": 8.8, "type": "quantitative", "axis": null}, "text": {"value": "condition"}}},
{"mark": {"type": "text", "fontSize": 12.5, "color": "#333"}, "encoding": {"x": {"datum": -20.27, "type": "quantitative", "axis": null}, "y": {"datum": 17.73, "type": "quantitative", "axis": null}, "text": {"value": "Single-cursor"}}},
{"mark": {"type": "text", "fontSize": 12.5, "color": "#333"}, "encoding": {"x": {"datum": -20.27, "type": "quantitative", "axis": null}, "y": {"datum": 19.73, "type": "quantitative", "axis": null}, "text": {"value": "condition"}}}
]
}
]
},
{
"width": 314, "height": 190,
"data": {"values": [{}]},
"layer": [
{
"layer": [
{"mark": {"type": "rule", "color": "#111", "strokeWidth": 1.3}, "encoding": {"x": {"datum": -2.14, "type": "quantitative", "axis": null}, "x2": {"datum": 14.0}, "y": {"datum": 0, "type": "quantitative", "axis": null}}},
{"mark": {"type": "rule", "color": "#111", "strokeWidth": 1.3}, "encoding": {"x": {"datum": 0, "type": "quantitative", "axis": null}, "y": {"datum": 2.14, "type": "quantitative", "axis": null}, "y2": {"datum": -14.0}}},
{"mark": {"type": "rule", "color": "#555", "strokeWidth": 1}, "encoding": {"x": {"datum": 10, "type": "quantitative", "axis": null}, "y": {"datum": 0, "type": "quantitative", "axis": null}, "y2": {"datum": -0.35}}},
{"mark": {"type": "rule", "color": "#555", "strokeWidth": 1}, "encoding": {"x": {"datum": 0, "type": "quantitative", "axis": null}, "x2": {"datum": 0.35}, "y": {"datum": -10, "type": "quantitative", "axis": null}}}
]
},
{
"encoding": {
"x": {"field": "x", "type": "quantitative", "scale": {"domain": [-14.22, 19.36], "nice": false, "zero": false}, "axis": null},
"y": {"field": "y", "type": "quantitative", "scale": {"domain": [-14.76, 5.56], "nice": false, "zero": false}, "axis": null}
},
"layer": [
{"data": {"name": "cEll"}, "transform": [{"filter": "datum.g != 'e3'"}], "mark": {"type": "line", "interpolate": "cardinal-closed", "color": "#8b8fd3", "strokeWidth": 1.5}, "encoding": {"detail": {"field": "g"}, "order": {"field": "k"}}},
{"data": {"name": "cEll"}, "transform": [{"filter": "datum.g == 'e3'"}], "mark": {"type": "line", "interpolate": "cardinal-closed", "color": "#e87f81", "strokeWidth": 2}, "encoding": {"order": {"field": "k"}}},
{"data": {"name": "cFan"}, "mark": {"type": "rule", "color": "#dd6a6a", "strokeWidth": 0.7}, "encoding": {"x2": {"field": "x2"}, "y2": {"field": "y2"}}},
{"data": {"name": "cBand"}, "mark": {"type": "rule", "color": "#7a3b80", "strokeWidth": 5.5, "opacity": 0.85, "strokeCap": "round"}, "encoding": {"x2": {"field": "x2"}, "y2": {"field": "y2"}}},
{"data": {"name": "cBlue"}, "mark": {"type": "circle", "color": "#2d3192", "size": 10, "opacity": 1}},
{"data": {"name": "cRed"}, "mark": {"type": "circle", "color": "#d42a2f", "size": 10, "opacity": 1}}
]
},
{
"layer": [
{"mark": {"type": "text", "fontSize": 17, "fontWeight": "bold", "align": "left", "color": "#111"}, "encoding": {"x": {"datum": -9.73, "type": "quantitative", "axis": null}, "y": {"datum": 4.06, "type": "quantitative", "axis": null}, "text": {"value": "C"}}},
{"mark": {"type": "text", "fontSize": 12, "color": "#333"}, "encoding": {"x": {"datum": 10.8, "type": "quantitative", "axis": null}, "y": {"datum": 2.57, "type": "quantitative", "axis": null}, "text": {"value": "Right hand X"}}},
{"mark": {"type": "text", "fontSize": 12, "color": "#333"}, "encoding": {"x": {"datum": 10.8, "type": "quantitative", "axis": null}, "y": {"datum": 1.07, "type": "quantitative", "axis": null}, "text": {"value": "position (cm)"}}},
{"mark": {"type": "text", "fontSize": 12, "color": "#333", "angle": 270}, "encoding": {"x": {"datum": -2.67, "type": "quantitative", "axis": null}, "y": {"datum": -10.7, "type": "quantitative", "axis": null}, "text": {"value": "Left hand X"}}},
{"mark": {"type": "text", "fontSize": 12, "color": "#333", "angle": 270}, "encoding": {"x": {"datum": -0.95, "type": "quantitative", "axis": null}, "y": {"datum": -10.5, "type": "quantitative", "axis": null}, "text": {"value": "position (cm)"}}},
{"mark": {"type": "text", "fontSize": 10, "color": "#444"}, "encoding": {"x": {"datum": 10.05, "type": "quantitative", "axis": null}, "y": {"datum": -0.9, "type": "quantitative", "axis": null}, "text": {"value": "+10"}}},
{"mark": {"type": "text", "fontSize": 10, "color": "#444", "align": "left"}, "encoding": {"x": {"datum": 0.3, "type": "quantitative", "axis": null}, "y": {"datum": -9.95, "type": "quantitative", "axis": null}, "text": {"value": "-10"}}}
]
}
]
},
{
"width": 314, "height": 415,
"data": {"values": [{}]},
"layer": [
{
"encoding": {
"x": {"field": "x", "type": "quantitative", "scale": {"domain": [-30, 18.31], "nice": false, "zero": false}, "axis": null},
"y": {"field": "t", "type": "quantitative", "scale": {"domain": [-216.6, 563.9], "reverse": true, "nice": false, "zero": false}, "axis": null}
},
"layer": [
{"data": {"name": "bBand"}, "transform": [{"filter": "datum.kind == 'hand'"}], "mark": {"type": "rect", "color": "#dcdcf0"}, "encoding": {"x2": {"field": "x2"}, "y2": {"field": "t2"}}},
{"data": {"name": "bBand"}, "transform": [{"filter": "datum.kind == 'cursor'"}], "mark": {"type": "rect", "color": "#fbe1d8"}, "encoding": {"x2": {"field": "x2"}, "y2": {"field": "t2"}}}
]
},
{
"layer": [
{"mark": {"type": "rule", "color": "#111", "strokeWidth": 1}, "encoding": {"x": {"datum": -17.69, "type": "quantitative", "axis": null}, "x2": {"datum": 18.31}, "y": {"datum": -100, "type": "quantitative", "axis": null}}},
{"mark": {"type": "rule", "color": "#999", "strokeWidth": 1, "strokeDash": [2, 2]}, "encoding": {"x": {"datum": -17.69, "type": "quantitative", "axis": null}, "x2": {"datum": 18.31}, "y": {"datum": 0, "type": "quantitative", "axis": null}}},
{"mark": {"type": "rule", "color": "#d7262b", "strokeWidth": 3, "strokeDash": [6, 5]}, "encoding": {"x": {"datum": 0, "type": "quantitative", "axis": null}, "y": {"datum": -100, "type": "quantitative", "axis": null}, "y2": {"datum": 513}}},
{"data": {"name": "tTicks"}, "mark": {"type": "text", "fontSize": 11, "color": "#444"}, "encoding": {"x": {"datum": -22.31, "type": "quantitative", "axis": null}, "y": {"field": "t", "type": "quantitative", "scale": {"domain": [-216.6, 563.9], "reverse": true, "nice": false, "zero": false}, "axis": null}, "text": {"field": "t", "type": "nominal"}}}
]
},
{
"encoding": {
"x": {"field": "x", "type": "quantitative", "scale": {"domain": [-30, 18.31], "nice": false, "zero": false}, "axis": null},
"y": {"field": "t", "type": "quantitative", "scale": {"domain": [-216.6, 563.9], "reverse": true, "nice": false, "zero": false}, "axis": null}
},
"layer": [
{"data": {"name": "bThin"}, "transform": [{"filter": "datum.c == 'r'"}], "mark": {"type": "line", "interpolate": "basis", "color": "#f3a68b", "strokeWidth": 0.8}, "encoding": {"detail": {"field": "i"}, "order": {"field": "t"}}},
{"data": {"name": "bThin"}, "transform": [{"filter": "datum.c == 'b'"}], "mark": {"type": "line", "interpolate": "basis", "color": "#a3a5da", "strokeWidth": 0.8}, "encoding": {"detail": {"field": "i"}, "order": {"field": "t"}}},
{"data": {"name": "bMean"}, "transform": [{"filter": "datum.c == 'r'"}], "mark": {"type": "line", "interpolate": "catmull-rom", "color": "#d42026", "strokeWidth": 3}, "encoding": {"detail": {"field": "i"}, "order": {"field": "t"}}},
{"data": {"name": "bMean"}, "transform": [{"filter": "datum.c == 'b'"}], "mark": {"type": "line", "interpolate": "catmull-rom", "color": "#2a2c92", "strokeWidth": 3}, "encoding": {"detail": {"field": "i"}, "order": {"field": "t"}}}
]
},
{
"layer": [
{"mark": {"type": "text", "fontSize": 17, "fontWeight": "bold", "align": "left", "color": "#111"}, "encoding": {"x": {"datum": -29.23, "type": "quantitative", "axis": null}, "y": {"datum": -179.0, "type": "quantitative", "axis": null}, "text": {"value": "B"}}},
{"mark": {"type": "text", "fontSize": 13, "color": "#333"}, "encoding": {"x": {"datum": -0.77, "type": "quantitative", "axis": null}, "y": {"datum": -171.5, "type": "quantitative", "axis": null}, "text": {"value": "Hand X position (Single subject)"}}},
{"mark": {"type": "text", "fontSize": 14, "color": "#222"}, "encoding": {"x": {"datum": -9.23, "type": "quantitative", "axis": null}, "y": {"datum": -124.4, "type": "quantitative", "axis": null}, "text": {"value": "Left hand"}}},
{"mark": {"type": "text", "fontSize": 14, "color": "#222"}, "encoding": {"x": {"datum": 9.08, "type": "quantitative", "axis": null}, "y": {"datum": -124.4, "type": "quantitative", "axis": null}, "text": {"value": "Right hand"}}},
{"mark": {"type": "text", "fontSize": 14, "color": "#333"}, "encoding": {"x": {"datum": 14.6, "type": "quantitative", "axis": null}, "y": {"datum": -17.25, "type": "quantitative", "axis": null}, "text": {"value": "Perturbation"}}},
{"mark": {"type": "text", "fontSize": 14, "color": "#333"}, "encoding": {"x": {"datum": 14.9, "type": "quantitative", "axis": null}, "y": {"datum": 14.74, "type": "quantitative", "axis": null}, "text": {"value": "Onset"}}},
{"mark": {"type": "text", "fontSize": 12, "color": "#333", "angle": 270}, "encoding": {"x": {"datum": -28.0, "type": "quantitative", "axis": null}, "y": {"datum": 206.6, "type": "quantitative", "axis": null}, "text": {"value": "Time (ms)"}}},
{"mark": {"type": "rule", "color": "#222", "strokeWidth": 1.5}, "encoding": {"x": {"datum": -25.38, "type": "quantitative", "axis": null}, "y": {"datum": 121.9, "type": "quantitative", "axis": null}, "y2": {"datum": 268.6}}},
{"mark": {"type": "point", "shape": "triangle-down", "filled": true, "color": "#222", "size": 60, "opacity": 1}, "encoding": {"x": {"datum": -25.38, "type": "quantitative", "axis": null}, "y": {"datum": 274.3, "type": "quantitative", "axis": null}}},
{"mark": {"type": "rule", "color": "#777", "strokeWidth": 2}, "encoding": {"x": {"datum": -8, "type": "quantitative", "axis": null}, "x2": {"datum": -6}, "y": {"datum": 528.2, "type": "quantitative", "axis": null}}},
{"mark": {"type": "rule", "color": "#aaa", "strokeWidth": 2}, "encoding": {"x": {"datum": -1, "type": "quantitative", "axis": null}, "x2": {"datum": 0}, "y": {"datum": 528.2, "type": "quantitative", "axis": null}}},
{"mark": {"type": "text", "fontSize": 11.5, "color": "#333"}, "encoding": {"x": {"datum": -6.92, "type": "quantitative", "axis": null}, "y": {"datum": 552.6, "type": "quantitative", "axis": null}, "text": {"value": "2 cm"}}},
{"mark": {"type": "text", "fontSize": 11.5, "color": "#333"}, "encoding": {"x": {"datum": 0.62, "type": "quantitative", "axis": null}, "y": {"datum": 552.6, "type": "quantitative", "axis": null}, "text": {"value": "1 cm"}}}
]
}
]
},
{
"width": 314, "height": 415,
"data": {"values": [{}]},
"layer": [
{
"encoding": {
"x": {"field": "x", "type": "quantitative", "scale": {"domain": [-28.31, 15.92], "nice": false, "zero": false}, "axis": null},
"y": {"field": "t", "type": "quantitative", "scale": {"domain": [-216.6, 563.9], "reverse": true, "nice": false, "zero": false}, "axis": null}
},
"layer": [
{"data": {"name": "dBand"}, "transform": [{"filter": "datum.kind == 'hand'"}], "mark": {"type": "rect", "color": "#dcdcf0"}, "encoding": {"x2": {"field": "x2"}, "y2": {"field": "t2"}}},
{"data": {"name": "dBand"}, "transform": [{"filter": "datum.kind == 'cursor'"}], "mark": {"type": "rect", "color": "#fbe1d8"}, "encoding": {"x2": {"field": "x2"}, "y2": {"field": "t2"}}}
]
},
{
"layer": [
{"mark": {"type": "rule", "color": "#888", "strokeWidth": 1}, "encoding": {"x": {"datum": -17.89, "type": "quantitative", "axis": null}, "x2": {"datum": 15.63}, "y": {"datum": -100, "type": "quantitative", "axis": null}}},
{"data": {"name": "dTick"}, "mark": {"type": "rule", "color": "#888", "strokeWidth": 1}, "encoding": {"x": {"field": "x", "type": "quantitative", "scale": {"domain": [-28.31, 15.92], "nice": false, "zero": false}, "axis": null}, "y": {"datum": -100, "type": "quantitative", "axis": null}, "y2": {"datum": -105.6}}},
{"data": {"name": "dTick"}, "mark": {"type": "text", "fontSize": 11.5, "color": "#444"}, "encoding": {"x": {"field": "x", "type": "quantitative", "scale": {"domain": [-28.31, 15.92], "nice": false, "zero": false}, "axis": null}, "y": {"datum": -116.9, "type": "quantitative", "axis": null}, "text": {"field": "x", "type": "nominal"}}},
{"data": {"name": "tTicks"}, "mark": {"type": "text", "fontSize": 11, "color": "#444"}, "encoding": {"x": {"datum": -20.14, "type": "quantitative", "axis": null}, "y": {"field": "t", "type": "quantitative", "scale": {"domain": [-216.6, 563.9], "reverse": true, "nice": false, "zero": false}, "axis": null}, "text": {"field": "t", "type": "nominal"}}},
{"mark": {"type": "rule", "color": "#999", "strokeWidth": 1, "strokeDash": [2, 2]}, "encoding": {"x": {"datum": -17.89, "type": "quantitative", "axis": null}, "x2": {"datum": 15.63}, "y": {"datum": 0, "type": "quantitative", "axis": null}}},
{"mark": {"type": "rule", "color": "#d7262b", "strokeWidth": 3, "strokeDash": [6, 5]}, "encoding": {"x": {"datum": 0, "type": "quantitative", "axis": null}, "y": {"datum": -100, "type": "quantitative", "axis": null}, "y2": {"datum": 513}}}
]
},
{
"encoding": {
"x": {"field": "x", "type": "quantitative", "scale": {"domain": [-28.31, 15.92], "nice": false, "zero": false}, "axis": null},
"y": {"field": "t", "type": "quantitative", "scale": {"domain": [-216.6, 563.9], "reverse": true, "nice": false, "zero": false}, "axis": null}
},
"layer": [
{"data": {"name": "dThin"}, "transform": [{"filter": "datum.c == 'r'"}], "mark": {"type": "line", "interpolate": "basis", "color": "#f2a98f", "strokeWidth": 1}, "encoding": {"detail": {"field": "i"}, "order": {"field": "t"}}},
{"data": {"name": "dThin"}, "transform": [{"filter": "datum.c == 'b'"}], "mark": {"type": "line", "interpolate": "basis", "color": "#a3a5da", "strokeWidth": 1}, "encoding": {"detail": {"field": "i"}, "order": {"field": "t"}}},
{"data": {"name": "dMean"}, "transform": [{"filter": "datum.c == 'r'"}], "mark": {"type": "line", "interpolate": "catmull-rom", "color": "#d42026", "strokeWidth": 3}, "encoding": {"detail": {"field": "i"}, "order": {"field": "t"}}},
{"data": {"name": "dMean"}, "transform": [{"filter": "datum.c == 'b'"}], "mark": {"type": "line", "interpolate": "catmull-rom", "color": "#2a2c92", "strokeWidth": 3}, "encoding": {"detail": {"field": "i"}, "order": {"field": "t"}}}
]
},
{
"layer": [
{"mark": {"type": "text", "fontSize": 17, "fontWeight": "bold", "align": "left", "color": "#111"}, "encoding": {"x": {"datum": -22.25, "type": "quantitative", "axis": null}, "y": {"datum": -179.0, "type": "quantitative", "axis": null}, "text": {"value": "D"}}},
{"mark": {"type": "text", "fontSize": 13, "color": "#333"}, "encoding": {"x": {"datum": 0.14, "type": "quantitative", "axis": null}, "y": {"datum": -182.7, "type": "quantitative", "axis": null}, "text": {"value": "Hand X position (cm)"}}},
{"mark": {"type": "text", "fontSize": 13, "color": "#333"}, "encoding": {"x": {"datum": 0.14, "type": "quantitative", "axis": null}, "y": {"datum": -154.5, "type": "quantitative", "axis": null}, "text": {"value": "All subjects"}}}
]
}
]
},
{
"width": 314, "height": 245,
"data": {"values": [{}]},
"layer": [
{
"layer": [
{"mark": {"type": "rule", "color": "#c4c4c4", "strokeWidth": 3}, "encoding": {"x": {"datum": -100, "type": "quantitative", "axis": null}, "x2": {"datum": 700}, "y": {"datum": 0.75, "type": "quantitative", "axis": null}}},
{"mark": {"type": "rule", "color": "#aaa", "strokeWidth": 1, "strokeDash": [2, 2]}, "encoding": {"x": {"datum": 0, "type": "quantitative", "axis": null}, "y": {"datum": 0.2, "type": "quantitative", "axis": null}, "y2": {"datum": 1.0}}},
{"mark": {"type": "rule", "color": "#aaa", "strokeWidth": 1.2}, "encoding": {"x": {"datum": 165, "type": "quantitative", "axis": null}, "y": {"datum": 0.2, "type": "quantitative", "axis": null}, "y2": {"datum": 1.02}}},
{"mark": {"type": "rule", "color": "#aaa", "strokeWidth": 1.2}, "encoding": {"x": {"datum": 194, "type": "quantitative", "axis": null}, "y": {"datum": 0.2, "type": "quantitative", "axis": null}, "y2": {"datum": 1.02}}},
{"mark": {"type": "rule", "color": "#222", "strokeWidth": 1}, "encoding": {"x": {"datum": -100, "type": "quantitative", "axis": null}, "x2": {"datum": 700}, "y": {"datum": 0.5, "type": "quantitative", "axis": null}}},
{"mark": {"type": "rule", "color": "#222", "strokeWidth": 1}, "encoding": {"x": {"datum": -100, "type": "quantitative", "axis": null}, "y": {"datum": 0.2, "type": "quantitative", "axis": null}, "y2": {"datum": 1.0}}},
{"data": {"name": "eXTick"}, "mark": {"type": "rule", "color": "#222", "strokeWidth": 1}, "encoding": {"x": {"field": "t", "type": "quantitative", "scale": {"domain": [-287.1, 726.8], "nice": false, "zero": false}, "axis": null}, "y": {"datum": 0.5, "type": "quantitative", "axis": null}, "y2": {"datum": 0.478}}},
{"data": {"name": "eYTick"}, "mark": {"type": "rule", "color": "#222", "strokeWidth": 1}, "encoding": {"x": {"datum": -100, "type": "quantitative", "axis": null}, "x2": {"datum": -90.3}, "y": {"field": "roc", "type": "quantitative", "scale": {"domain": [0.035, 1.119], "nice": false, "zero": false}, "axis": null}}},
{"data": {"name": "eXLab"}, "mark": {"type": "text", "fontSize": 13, "color": "#333"}, "encoding": {"x": {"field": "t", "type": "quantitative", "scale": {"domain": [-287.1, 726.8], "nice": false, "zero": false}, "axis": null}, "y": {"datum": 0.436, "type": "quantitative", "axis": null}, "text": {"field": "t", "type": "nominal"}}},
{"data": {"name": "eYLab"}, "mark": {"type": "text", "fontSize": 12, "color": "#333"}, "encoding": {"x": {"datum": -148.4, "type": "quantitative", "axis": null}, "y": {"field": "roc", "type": "quantitative", "scale": {"domain": [0.035, 1.119], "nice": false, "zero": false}, "axis": null}, "text": {"field": "lab", "type": "nominal"}}}
]
},
{
"encoding": {
"x": {"field": "t", "type": "quantitative", "scale": {"domain": [-287.1, 726.8], "nice": false, "zero": false}, "axis": null},
"y": {"field": "roc", "type": "quantitative", "scale": {"domain": [0.035, 1.119], "nice": false, "zero": false}, "axis": null}
},
"layer": [
{"data": {"name": "eSubj"}, "mark": {"type": "line", "interpolate": "monotone", "color": "#6f6f6f", "strokeWidth": 1}, "encoding": {"detail": {"field": "i"}}},
{"data": {"name": "eMean"}, "mark": {"type": "line", "interpolate": "monotone", "color": "#cc2229", "strokeWidth": 3.5}}
]
},
{
"layer": [
{"mark": {"type": "rule", "color": "#111", "strokeWidth": 2}, "encoding": {"x": {"datum": 61, "type": "quantitative", "axis": null}, "y": {"datum": 0.2, "type": "quantitative", "axis": null}, "x2": {"datum": 239}, "y2": {"datum": 1.027}}},
{"mark": {"type": "text", "fontSize": 17, "fontWeight": "bold", "align": "left", "color": "#111"}, "encoding": {"x": {"datum": -271, "type": "quantitative", "axis": null}, "y": {"datum": 1.086, "type": "quantitative", "axis": null}, "text": {"value": "E"}}},
{"mark": {"type": "text", "fontSize": 15, "color": "#222", "angle": 270}, "encoding": {"x": {"datum": -248.4, "type": "quantitative", "axis": null}, "y": {"datum": 0.6, "type": "quantitative", "axis": null}, "text": {"value": "ROC"}}},
{"mark": {"type": "text", "fontSize": 15, "color": "#222"}, "encoding": {"x": {"datum": 261, "type": "quantitative", "axis": null}, "y": {"datum": 0.358, "type": "quantitative", "axis": null}, "text": {"value": "Time (ms)"}}},
{"mark": {"type": "text", "fontSize": 14, "color": "#333"}, "encoding": {"x": {"datum": -3, "type": "quantitative", "axis": null}, "y": {"datum": 0.15, "type": "quantitative", "axis": null}, "text": {"value": "Perturbation"}}},
{"mark": {"type": "text", "fontSize": 14, "color": "#333"}, "encoding": {"x": {"datum": -3, "type": "quantitative", "axis": null}, "y": {"datum": 0.075, "type": "quantitative", "axis": null}, "text": {"value": "Onset"}}}
]
}
]
}
]
}
